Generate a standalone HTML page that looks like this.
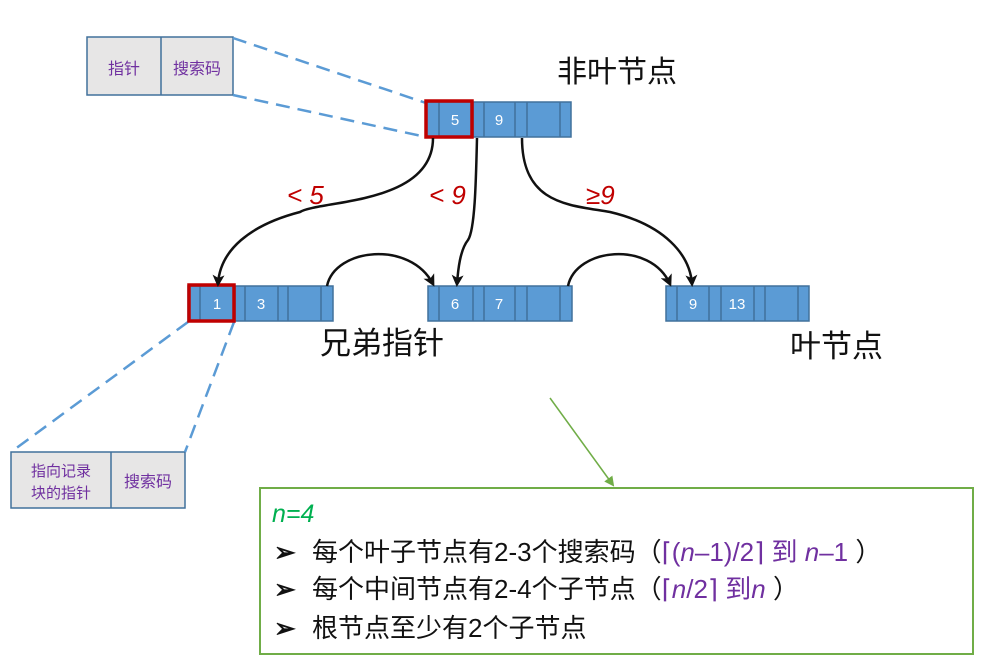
<!DOCTYPE html>
<html><head><meta charset="utf-8"><style>
body{margin:0;width:987px;height:667px;background:#fff;overflow:hidden;font-family:"Liberation Sans","Noto Sans CJK SC",sans-serif;}
svg{position:absolute;left:0;top:0}
</style></head><body>
<svg width="987" height="667" viewBox="0 0 987 667" font-family="Liberation Sans, Noto Sans CJK SC, sans-serif">
<defs>
<marker id="a" markerWidth="12" markerHeight="12" refX="9" refY="6" orient="auto" markerUnits="userSpaceOnUse"><path d="M0,0 L12,6 L0,12 L3,6 Z" fill="#111"/></marker>
<marker id="g" markerWidth="10" markerHeight="10" refX="8" refY="5" orient="auto" markerUnits="userSpaceOnUse"><path d="M0,0 L10,5 L0,10 Z" fill="#70ad47"/></marker>
</defs>
<rect x="87" y="37" width="146" height="58" fill="#e7e6e6" stroke="#41719c" stroke-width="1.5"/>
<line x1="161" y1="37" x2="161" y2="95" stroke="#41719c" stroke-width="1.5"/>
<text x="124" y="74" font-size="16" fill="#7030a0" text-anchor="middle">指针</text>
<text x="197" y="74" font-size="16" fill="#7030a0" text-anchor="middle">搜索码</text>
<line x1="233" y1="38" x2="426" y2="103" stroke="#5b9bd5" stroke-width="2.5" stroke-dasharray="14,8"/>
<line x1="233" y1="95" x2="426" y2="137" stroke="#5b9bd5" stroke-width="2.5" stroke-dasharray="14,8"/>
<rect x="11" y="452" width="174" height="56" fill="#e7e6e6" stroke="#41719c" stroke-width="1.5"/>
<line x1="111" y1="452" x2="111" y2="508" stroke="#41719c" stroke-width="1.5"/>
<text x="61" y="476" font-size="15" fill="#7030a0" text-anchor="middle">指向记录</text>
<text x="61" y="498" font-size="15" fill="#7030a0" text-anchor="middle">块的指针</text>
<text x="148" y="487" font-size="16" fill="#7030a0" text-anchor="middle">搜索码</text>
<line x1="188" y1="322" x2="11" y2="452" stroke="#5b9bd5" stroke-width="2.5" stroke-dasharray="14,8"/>
<line x1="234" y1="322" x2="185" y2="452" stroke="#5b9bd5" stroke-width="2.5" stroke-dasharray="14,8"/>
<g fill="#5b9bd5" stroke="#41719c" stroke-width="1.5">
<rect x="426" y="102" width="145" height="35"/>
<rect x="188" y="286" width="145" height="35"/>
<rect x="428" y="286" width="144" height="35"/>
<rect x="666" y="286" width="143" height="35"/>
</g>
<g stroke="#41719c" stroke-width="1.5">
<path d="M439,102V137M473,102V137M484,102V137M515,102V137M527,102V137M560,102V137"/>
<path d="M200,286V321M235,286V321M245,286V321M278,286V321M288,286V321M321,286V321"/>
<path d="M439,286V321M473,286V321M484,286V321M515,286V321M527,286V321M560,286V321"/>
<path d="M677,286V321M709,286V321M721,286V321M754,286V321M765,286V321M798,286V321"/>
</g>
<g fill="#fff" font-size="15" text-anchor="middle">
<text x="455" y="125">5</text><text x="499" y="125">9</text>
<text x="217" y="309">1</text><text x="261" y="309">3</text>
<text x="455" y="309">6</text><text x="499" y="309">7</text>
<text x="693" y="309">9</text><text x="737" y="309">13</text>
</g>
<rect x="426" y="101" width="46" height="36" fill="none" stroke="#c00000" stroke-width="3.5"/>
<rect x="189" y="285" width="45" height="36" fill="none" stroke="#c00000" stroke-width="3.5"/>
<g fill="none" stroke="#111" stroke-width="2.5">
<path d="M433,138 C433,205 320,200 300,212 C250,225 220,250 218,284" marker-end="url(#a)"/>
<path d="M477,138 C476,180 475,230 468,240 C460,250 458,270 457,284" marker-end="url(#a)"/>
<path d="M522,138 C522,205 570,205 610,212 C665,225 690,255 692,284" marker-end="url(#a)"/>
<path d="M327,286 C335,248 410,240 433,284" marker-end="url(#a)"/>
<path d="M568,286 C576,248 650,240 670,284" marker-end="url(#a)"/>
</g>
<g fill="#c00000" font-size="26" font-style="italic">
<text x="287" y="204">&lt; 5</text>
<text x="429" y="204">&lt; 9</text>
<text x="586" y="204">≥9</text>
</g>
<text x="557" y="82" font-size="30" fill="#111">非叶节点</text>
<text x="320" y="354" font-size="31" fill="#111">兄弟指针</text>
<text x="790" y="357" font-size="31" fill="#111">叶节点</text>
<line x1="550" y1="398" x2="613" y2="485" stroke="#70ad47" stroke-width="1.5" marker-end="url(#g)"/>
<rect x="260" y="488" width="713" height="166" fill="#fff" stroke="#70ad47" stroke-width="2"/>
<text x="272" y="522" font-size="25" font-style="italic" fill="#00b050">n=4</text>
<g font-size="26" fill="#111">
<text x="274" y="561" font-weight="bold">➢</text><text x="312" y="561">每个叶子节点有2-3个搜索码（<tspan fill="#7030a0">⌈(<tspan font-style="italic">n</tspan>–1)/2⌉ 到 <tspan font-style="italic">n</tspan>–1</tspan> ）</text>
<text x="274" y="598" font-weight="bold">➢</text><text x="312" y="598">每个中间节点有2-4个子节点（<tspan fill="#7030a0">⌈<tspan font-style="italic">n</tspan>/2⌉ 到<tspan font-style="italic">n</tspan></tspan> ）</text>
<text x="274" y="637" font-weight="bold">➢</text><text x="312" y="637">根节点至少有2个子节点</text>
</g>
</svg>
</body></html>
